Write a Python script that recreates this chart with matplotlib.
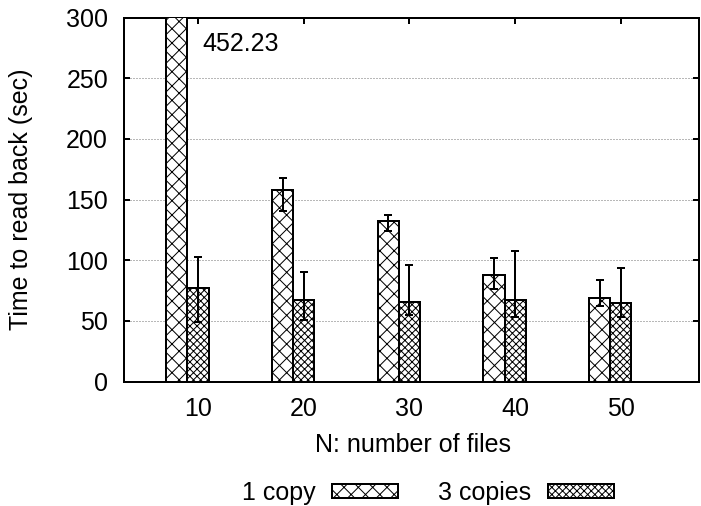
import numpy as np
import matplotlib
matplotlib.use("Agg")
import matplotlib.pyplot as plt
from matplotlib.patches import Patch

# values
n_files = ["10", "20", "30", "40", "50"]
one_copy = [452.23, 158, 132, 88, 69]
one_lo = [452.23, 141, 124, 76, 62]
one_hi = [452.23, 168, 137, 102, 84]
three_copies = [77, 67, 66, 67, 65]
three_lo = [49, 51, 55, 53, 53]
three_hi = [103, 90, 96, 108, 94]

DPI = 86
PT = 72.0 / DPI  # points per pixel

plt.rcParams['font.family'] = ['Liberation Sans', 'DejaVu Sans']
plt.rcParams['hatch.linewidth'] = 1.0 * PT
fs = 25 * PT

fig = plt.figure(figsize=(701 / DPI, 506 / DPI), dpi=DPI)
ax = fig.add_axes([124 / 701, 1 - 381.7 / 506, (699 - 124) / 701, (381.7 - 17.5) / 506])

x = np.arange(len(n_files))
w = 0.2
one = np.array(one_copy)
three = np.array(three_copies)
err1 = [one - np.array(one_lo), np.array(one_hi) - one]
err3 = [three - np.array(three_lo), np.array(three_hi) - three]

ax.bar(x - w, one, w, color='white', edgecolor='black', linewidth=2 * PT,
       hatch='xx', zorder=3)
ax.bar(x, three, w, color='white', edgecolor='black', linewidth=2 * PT,
       hatch='xxxx', zorder=3)
ax.errorbar(x - w, one, yerr=err1, fmt='none', ecolor='black',
            elinewidth=2 * PT, capsize=3.5 * PT, capthick=2 * PT, zorder=4)
ax.errorbar(x, three, yerr=err3, fmt='none', ecolor='black',
            elinewidth=2 * PT, capsize=3.5 * PT, capthick=2 * PT, zorder=4)

ax.text(0.04, 278, "%.2f" % one_copy[0], fontsize=fs, ha='left', va='center')

ax.set_xlim(-0.70, 4.74)
ax.set_ylim(0, 300)
ax.set_xticks(x)
ax.set_xticklabels(n_files)
ax.set_yticks(np.arange(0, 301, 50))
ax.tick_params(axis='x', bottom=False, top=True, direction='in',
               length=6 * PT, width=2 * PT, labelsize=fs, pad=15 * PT)
ax.tick_params(axis='y', left=True, right=True, direction='in',
               length=6 * PT, width=2 * PT, labelsize=fs, pad=16 * PT)
for s in ax.spines.values():
    s.set_linewidth(2 * PT)

ax.yaxis.grid(True, linestyle=(0, (1, 2)), color='0.45', linewidth=1 * PT, zorder=0)
ax.set_axisbelow(True)

ax.set_xlabel("N: number of files", fontsize=fs)
ax.set_ylabel("Time to read back (sec)", fontsize=fs)
ax.xaxis.set_label_coords(0.503, -0.141)
ax.yaxis.set_label_coords(-0.158, 0.5)

handles = [Patch(facecolor='white', edgecolor='black', linewidth=2 * PT, hatch='xx'),
           Patch(facecolor='white', edgecolor='black', linewidth=2 * PT, hatch='xxxx')]
fig.legend(handles, ["1 copy", "3 copies"], loc='center', ncol=2,
           bbox_to_anchor=(428 / 701, 1 - 493 / 506), frameon=False,
           markerfirst=False, fontsize=fs, handlelength=2.65, handleheight=0.5,
           handletextpad=0.65, columnspacing=1.6)

fig.savefig("out.png", dpi=DPI)
